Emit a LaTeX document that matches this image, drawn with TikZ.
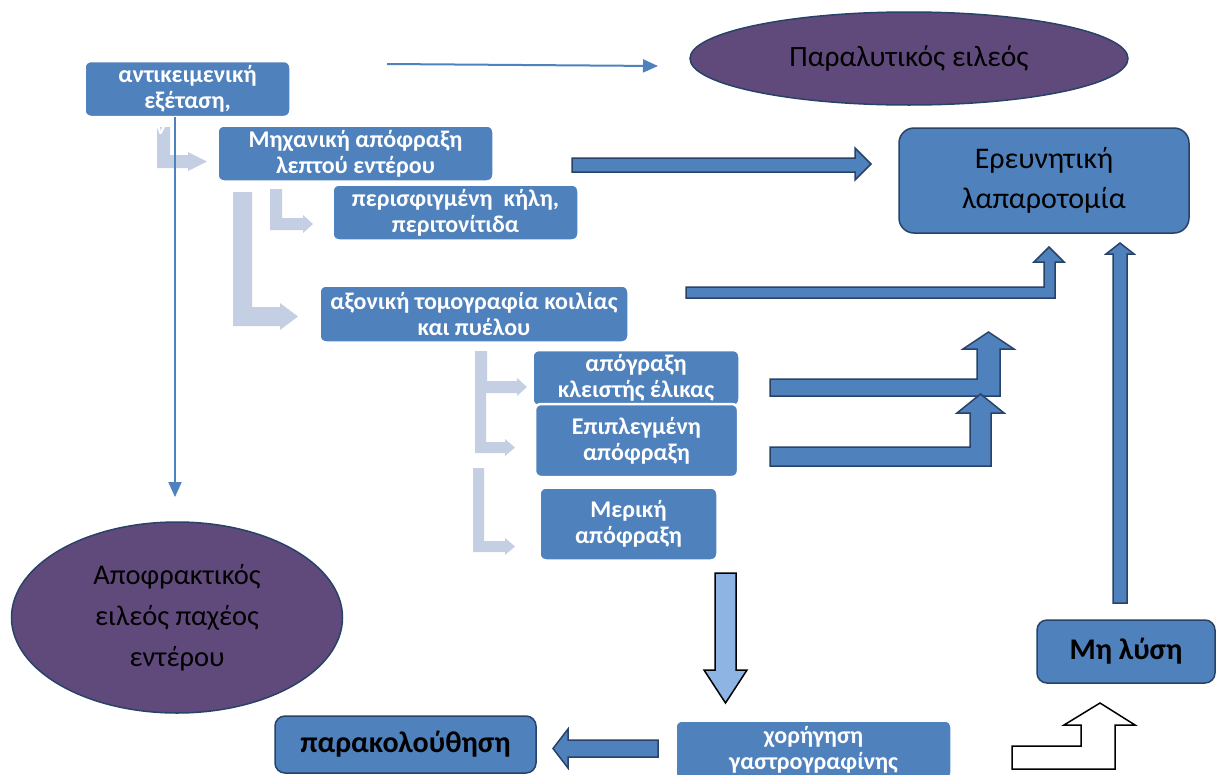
\documentclass[tikz,border=0pt]{standalone}
\usepackage{fontspec}
\setmainfont{Carlito}
\usetikzlibrary{arrows.meta,shapes.geometric}

\definecolor{boxblue}{RGB}{79,129,189}
\definecolor{darkline}{RGB}{40,66,104}
\definecolor{ileuspurple}{RGB}{96,74,123}
\definecolor{paleblue}{RGB}{197,207,227}
\definecolor{lightblue}{RGB}{141,180,226}

\tikzset{
  stepbox/.style={rectangle, rounded corners=6pt, fill=boxblue, draw=white, line width=1.5pt,
    text=white, font=\bfseries\fontsize{24}{26}\selectfont, align=center, inner sep=0pt},
  outbox/.style={rectangle, rounded corners=10pt, fill=boxblue, draw=darkline, line width=1.5pt,
    text=black, align=center, inner sep=0pt},
  ileus/.style={ellipse, fill=ileuspurple, draw=darkline, line width=1.5pt,
    text=black, align=center, inner sep=0pt},
  thinarrow/.style={draw=boxblue, line width=2pt, -{Triangle[length=15pt,width=13pt]}},
  blockarrow/.style={fill=boxblue, draw=darkline, line width=1.5pt, line join=miter},
}

\begin{document}
\begin{tikzpicture}[x=1pt,y=-1pt]
    \useasboundingbox (0,0) rectangle (1221,774);

    % Pale L-shaped arrows
    \foreach \xl/\w/\yt/\yb/\xh/\xt/\e in {157/13/127/168/188/207/3, 270/12/189/230/303/313/3,
        233/19/192/326/280/298/4, 475/12/351/393/517/527/3, 475/11/390/453/505/515/3, 473/11/468/552/505/515/3}
        \fill[paleblue] (\xl,\yt) -- (\xl+\w,\yt) -- (\xl+\w,\yb-\w) -- (\xh,\yb-\w) -- (\xh,\yb-\w-\e)
            -- (\xt,\yb-\w/2) -- (\xh,\yb+\e) -- (\xh,\yb) -- (\xl,\yb) -- cycle;
    \node[text=white, font=\bfseries\fontsize{24}{26}\selectfont, anchor=base] (hidden) at (161,134) {ν};

    % Ellipses
    \node[ileus, minimum width=438pt, minimum height=93pt, font=\fontsize{29.5}{36}\selectfont] (paralytic) at (909,58.5) {Παραλυτικός ειλεός};
    \node[ileus, minimum width=331pt, minimum height=191pt, font=\fontsize{28.5}{41}\selectfont] (obstructive) at (177,617.5) {Αποφρακτικός\\ειλεός παχέος\\εντέρου};

    % Steps
    \node[stepbox, minimum width=205pt, minimum height=55pt] (exam) at (187.5,89) {αντικειμενική\\εξέταση,};
    \node[stepbox, minimum width=275pt, minimum height=55pt] (mechanical) at (355.5,153.5) {Μηχανική απόφραξη\\λεπτού εντέρου};
    \node[stepbox, minimum width=245pt, minimum height=55pt] (hernia) at (455.5,212.5) {περισφιγμένη~~κήλη,\\περιτονίτιδα};
    \node[stepbox, minimum width=308pt, minimum height=56pt] (ct) at (474,314) {αξονική τομογραφία κοιλίας\\και πυέλου};
    \node[stepbox, minimum width=206pt, minimum height=55pt] (volvulus) at (636,378) {απόγραξη\\κλειστής έλικας};
    \node[stepbox, minimum width=203pt, minimum height=73pt, line width=2.5pt] (complicated) at (636.5,440.5) {Επιπλεγμένη\\απόφραξη};
    \node[stepbox, minimum width=177pt, minimum height=72pt] (partial) at (628.5,524) {Μερική\\απόφραξη};
    \node[stepbox, minimum width=275pt, minimum height=58pt] (gastro) at (813.5,750) {χορήγηση\\γαστρογραφίνης};

    % Outcomes
    \node[outbox, minimum width=261pt, minimum height=57pt, font=\bfseries\fontsize{30}{34}\selectfont] (followup) at (405.5,744.5) {παρακολούθηση};
    \node[outbox, minimum width=178pt, minimum height=63pt, font=\bfseries\fontsize{30}{34}\selectfont] (noresolve) at (1126,651.5) {Μη λύση};
    \node[outbox, rounded corners=15pt, minimum width=290pt, minimum height=105pt, font=\fontsize{30}{40}\selectfont] (laparotomy) at (1044,180.5) {Ερευνητική\\λαπαροτομία};

    % Thin arrows
    \coordinate (gap-start) at (387,64);
    \coordinate (paralytic-gap) at (658,66);
    \coordinate (obstructive-gap) at (175,497);
    \draw[thinarrow] (gap-start) -- (paralytic-gap);
    \draw[thinarrow] (exam.south -| obstructive-gap) -- (obstructive-gap);

    % Block arrows
    \draw[blockarrow] (572,158) -- (855,158) -- (855,148) -- (871,164) -- (855,180) -- (855,172) -- (572,172) -- cycle;
    \draw[blockarrow] (686,287) -- (1044,287) -- (1044,262) -- (1034,262) -- (1049,247) -- (1064,262) -- (1055,262) -- (1055,298) -- (686,298) -- cycle;
    \draw[blockarrow] (770,379) -- (977,379) -- (977,349) -- (963,349) -- (988.5,332) -- (1014,349) -- (1000,349) -- (1000,396) -- (770,396) -- cycle;
    \draw[blockarrow] (770,447) -- (970,447) -- (970,413) -- (957,413) -- (980.5,394) -- (1004,413) -- (991,413) -- (991,466) -- (770,466) -- cycle;
    \draw[blockarrow] (1113,603) -- (1113,254) -- (1106,254) -- (1120,243) -- (1134,254) -- (1127,254) -- (1127,603) -- cycle;
    \draw[blockarrow] (658,740) -- (568,740) -- (568,729) -- (553,748.5) -- (568,768) -- (568,757) -- (658,757) -- cycle;
    \draw[fill=lightblue, draw=black, line width=1.5pt] (715,573) -- (736,573) -- (736,670) -- (747,670) -- (725.5,703) -- (704,670) -- (715,670) -- cycle;
    \draw[fill=white, draw=black, line width=1.5pt] (1012,746) -- (1081,746) -- (1081,725) -- (1064,725) -- (1100,703) -- (1135,725) -- (1115,725) -- (1115,769) -- (1012,769) -- cycle;

\end{tikzpicture}
\end{document}
